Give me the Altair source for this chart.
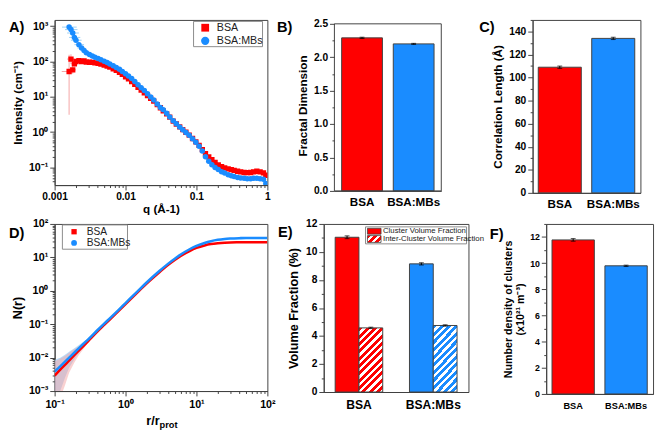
import json
import altair as alt
import pandas as pd

FONT = "Liberation Sans"
RED = "#ff0000"
BLUE = "#1a8cff"
LRED = "#f4a3a3"
LBLUE = "#9ccff5"
EDGE = "#404040"

# ---------------- data ----------------
samples = ["BSA", "BSA:MBs"]

# Panel A: SANS intensity I(q)
q = [0.0016, 0.0017, 0.0018, 0.0019, 0.0020, 0.0022, 0.0024, 0.0026, 0.0028, 0.0031,
     0.0034, 0.0037, 0.0041, 0.0045, 0.0050, 0.0055, 0.0060, 0.0067, 0.0074, 0.0082,
     0.0090, 0.0100, 0.0110, 0.0122, 0.0135, 0.0150, 0.0166, 0.0184, 0.0204, 0.0226,
     0.0250, 0.0280, 0.0310, 0.0340, 0.0380, 0.0420, 0.0470, 0.0520, 0.0580, 0.0640,
     0.0710, 0.0790, 0.0880, 0.0980, 0.1090, 0.1210, 0.1340, 0.1490, 0.1650, 0.1830,
     0.2030, 0.2260, 0.2500, 0.2800, 0.3100, 0.3400, 0.3800, 0.4200, 0.4700, 0.5200,
     0.5800, 0.6400, 0.7100, 0.7900, 0.8800, 0.9500]
I_bsa = [52, 117, 58, 86, 100, 106, 100, 103, 96, 95,
         94, 91, 88, 84, 79, 74, 69, 62, 56, 49,
         43, 37, 32, 27, 22.5, 18.5, 15.5, 13, 10.8, 9.0,
         7.5, 6.0, 4.9, 4.0, 3.3, 2.65, 2.05, 1.70, 1.40, 1.17,
         0.99, 0.82, 0.66, 0.53, 0.42, 0.32, 0.245, 0.20, 0.165, 0.138,
         0.118, 0.105, 0.097, 0.091, 0.087, 0.083, 0.078, 0.075, 0.072, 0.071,
         0.072, 0.075, 0.078, 0.075, 0.070, 0.060]
I_mbs = [940, 800, 640, 480, 400, 300, 240, 205, 178, 158,
         142, 132, 122, 112, 102, 93, 85, 76, 68, 60,
         52, 45, 39, 33, 27, 22, 18, 15, 12.2, 9.9,
         8.1, 6.3, 5.0, 4.3, 3.4, 2.7, 2.1, 1.72, 1.40, 1.17,
         0.98, 0.81, 0.65, 0.52, 0.40, 0.29, 0.20, 0.15, 0.12, 0.100,
         0.087, 0.076, 0.069, 0.062, 0.058, 0.055, 0.052, 0.050, 0.049, 0.048,
         0.048, 0.049, 0.049, 0.048, 0.046, 0.035]
# low-q error bars
err_q_bsa = [0.0016, 0.0017, 0.0018, 0.0019, 0.0020]
err_I_bsa = [52, 117, 58, 86, 100]
err_lo_bsa = [3.1, 85, 45, 72, 90]
err_hi_bsa = [155, 160, 75, 100, 115]
err_qlo_bsa = [0.00126, 0.0015, 0.0016, 0.0017, 0.0019]
err_qhi_bsa = [0.0019, 0.0019, 0.0020, 0.0021, 0.0021]
err_q_mbs = [0.0016, 0.0017, 0.0018, 0.0019, 0.0020, 0.0022, 0.0024]
err_I_mbs = [940, 800, 640, 480, 400, 300, 240]
err_lo_mbs = [820, 690, 560, 420, 350, 270, 215]
err_hi_mbs = [1080, 930, 730, 550, 460, 335, 270]
err_qlo_mbs = [0.00127, 0.0014, 0.0015, 0.0016, 0.0017, 0.0019, 0.0021]
err_qhi_mbs = [0.00205, 0.0021, 0.0022, 0.0023, 0.0024, 0.0026, 0.0027]

# Panel B / C / F
fractal = [2.29, 2.20]
fractal_err = [0.01, 0.008]
corr_len = [109.0, 134.0]
corr_len_err = [1.0, 1.0]
num_density = [11.78, 9.80]
num_density_err = [0.10, 0.05]

# Panel D: N(r)
r = [0.1, 0.12, 0.15, 0.2, 0.25, 0.3, 0.4, 0.5, 0.6, 0.8, 1.0, 1.5, 2, 3, 4, 5, 6, 8,
     10, 13, 16, 20, 25, 30, 40, 50, 70, 100]
N_bsa = [0.0029, 0.0044, 0.0071, 0.0133, 0.0215, 0.032, 0.060, 0.095, 0.138, 0.25,
         0.40, 0.93, 1.68, 3.6, 6.0, 8.5, 11.0, 15.5, 19.2, 22.8, 25.0, 26.5, 27.5,
         28.0, 28.3, 28.5, 28.5, 28.5]
N_mbs = [0.0038, 0.0055, 0.0087, 0.0158, 0.025, 0.036, 0.066, 0.104, 0.150, 0.27,
         0.43, 1.0, 1.8, 3.9, 6.5, 9.3, 12.2, 17.5, 22.0, 27.0, 30.5, 33.5, 35.5,
         36.5, 37.5, 38.0, 38.0, 38.0]
r_err = [0.1, 0.11, 0.12, 0.14, 0.16, 0.19, 0.22, 0.26, 0.3]
N_bsa_hi = [0.0078, 0.0085, 0.0093, 0.0112, 0.014, 0.018, 0.022, 0.028, 0.034]
N_bsa_lo = [0.0003, 0.0004, 0.0006, 0.0015, 0.0035, 0.0072, 0.012, 0.019, 0.029]
N_mbs_hi = [0.0085, 0.0092, 0.0100, 0.0122, 0.015, 0.019, 0.024, 0.031, 0.038]
N_mbs_lo = [0.0004, 0.0006, 0.0010, 0.0025, 0.005, 0.009, 0.014, 0.022, 0.033]

# Panel E: volume fractions
vf_types = ["Cluster Volume Fraction", "Inter-Cluster Volume Fraction"]
vf_cluster = [11.05, 9.15]
vf_cluster_err = [0.10, 0.08]
vf_inter = [4.58, 4.75]
vf_inter_err = [0.05, 0.05]

legend_labels = ["BSA", "BSA:MBs"]

# ---------------- helpers ----------------
ONE = pd.DataFrame({"k": [0]})
SUP = {-3: "⁻³", -2: "⁻²", -1: "⁻¹", 0: "⁰", 1: "¹", 2: "²", 3: "³"}


def ax(**kw):
    d = dict(grid=False, labelFont=FONT, titleFont=FONT, labelFontWeight="bold",
             titleFontWeight="bold", labelColor="black", titleColor="black",
             domainColor=EDGE, tickColor=EDGE, labelFontSize=10.5, titleFontSize=12,
             tickSize=5, labelPadding=2, titlePadding=3, labelFlush=False,
             labelOverlap=False)
    d.update(kw)
    return alt.Axis(**d)


def log_vals(lo, hi, d0, d1):
    out = []
    for d in range(d0, d1 + 1):
        for m in range(1, 10):
            v = m * 10.0 ** d
            if lo * 0.9999 <= v <= hi * 1.0001:
                out.append(v)
    return out


def log_axis(lo, hi, d0, d1, texts, **kw):
    decs = [d for d in range(d0, d1 + 1) if lo * 0.9999 <= 10.0 ** d <= hi * 1.0001]
    expr = " : ".join(f"datum.value == {json.dumps(10.0 ** d)} ? '{texts(d)}'" for d in decs) + " : ''"
    test = "indexof(" + json.dumps([10.0 ** d for d in decs]) + ", datum.value) >= 0"
    return ax(values=log_vals(lo, hi, d0, d1), labelExpr=expr,
              tickSize={"condition": {"test": test, "value": 5}, "value": 2.5}, **kw)


def lin_axis(ymax, minor, major, fmt, **kw):
    n = int(round(ymax / minor))
    vals = [round(i * minor, 6) for i in range(n + 1)]
    test = f"abs(datum.value/{major} - round(datum.value/{major})) < 1e-6"
    return ax(values=vals, labelExpr=f"{test} ? format(datum.value, '{fmt}') : ''",
              tickSize={"condition": {"test": test, "value": 5}, "value": 2.5}, **kw)


def spacer(x, y):
    return alt.Chart(ONE).mark_square(size=1, opacity=0).encode(x=alt.value(x), y=alt.value(y))


def letter(t, x, y):
    return alt.Chart(ONE).mark_text(text=t, font=FONT, fontSize=15, fontWeight="bold",
                                    align="left", baseline="top", color="black").encode(
        x=alt.value(x), y=alt.value(y))


def txt(s, x, y, size, weight="normal", align="left", baseline="middle", color="#222"):
    return alt.Chart(ONE).mark_text(text=s, font=FONT, fontSize=size, fontWeight=weight,
                                    align=align, baseline=baseline, color=color).encode(
        x=alt.value(x), y=alt.value(y))


def box(x1, x2, y1, y2, fill="white", stroke="#8a8a8a"):
    return alt.Chart(ONE).mark_rect(fill=fill, stroke=stroke, strokeWidth=1).encode(
        x=alt.value(x1), x2=alt.value(x2), y=alt.value(y1), y2=alt.value(y2))


def stripes(c, periods, x2, y2, white=0.45):
    stops = []
    for i in range(periods):
        a = i / periods
        b = (i + 1 - white) / periods
        e = (i + 1) / periods
        stops += [{"offset": a, "color": c}, {"offset": b, "color": c},
                  {"offset": b, "color": "white"}, {"offset": e, "color": "white"}]
    return {"gradient": "linear", "x1": 0, "y1": 0, "x2": x2, "y2": y2, "stops": stops}


def simple_bars(vals, errs, ymax, minor, major, fmt, title, pi, po, xsize, xpad,
                ysize, tsize, tpad, dom_max=None, w=None, h=None):
    df = pd.DataFrame({"s": samples, "v": vals,
                       "lo": [v - e for v, e in zip(vals, errs)],
                       "hi": [v + e for v, e in zip(vals, errs)]})
    framed = dom_max is not None
    yax = lin_axis(ymax, minor, major, fmt, title=title, labelFontSize=ysize,
                   titleFontSize=tsize, titlePadding=tpad, domain=not framed)
    ysc = alt.Scale(domain=[0, dom_max if framed else ymax], nice=False)
    X = alt.X("s:N", scale=alt.Scale(domain=samples, paddingInner=pi, paddingOuter=po),
              axis=ax(title=None, ticks=False, labelAngle=0, labelFontSize=xsize,
                      labelPadding=xpad))
    col = alt.Color("s:N", scale=alt.Scale(domain=samples, range=[RED, BLUE]), legend=None)
    layers = [
        alt.Chart(df).mark_bar(stroke=EDGE, strokeWidth=1).encode(
            x=X, y=alt.Y("v:Q", scale=ysc, axis=yax), color=col),
        alt.Chart(df).mark_rule(color="black").encode(
            x=X, y=alt.Y("lo:Q", scale=ysc, axis=yax), y2="hi:Q"),
        alt.Chart(df).mark_tick(color="black", size=5, thickness=1).encode(
            x=X, y=alt.Y("lo:Q", scale=ysc, axis=yax)),
        alt.Chart(df).mark_tick(color="black", size=5, thickness=1).encode(
            x=X, y=alt.Y("hi:Q", scale=ysc, axis=yax)),
    ]
    if framed:
        layers.append(alt.Chart(ONE).mark_rect(fill="transparent", stroke=EDGE, strokeWidth=1).encode(
            x=alt.value(0), x2=alt.value(w),
            y=alt.Y(datum=ymax, scale=ysc, axis=yax), y2=alt.value(h)))
    return layers


# ---------------- Panel A ----------------
A_W, A_H = 219, 170
scAx = alt.Scale(type="log", domain=[0.001, 1], nice=False)
scAy = alt.Scale(type="log", domain=[0.0316, 1500], nice=False)
axAx = log_axis(0.001, 1, -3, 0, lambda d: {-3: "0.001", -2: "0.01", -1: "0.1", 0: "1"}[d],
                title="q (Å-1)", labelPadding=2, titlePadding=2)
axAy = log_axis(0.0316, 1500, -2, 3, lambda d: "10" + SUP[d], title="Intensity (cm⁻¹)",
                titlePadding=4, labelFontSize=11)


def XA(f="q"):
    return alt.X(f"{f}:Q", scale=scAx, axis=axAx)


def YA(f="I"):
    return alt.Y(f"{f}:Q", scale=scAy, axis=axAy)


dfA_r = pd.DataFrame({"q": q, "I": I_bsa})
dfA_b = pd.DataFrame({"q": q, "I": I_mbs})
dfE_r = pd.DataFrame({"q": err_q_bsa, "I": err_I_bsa, "lo": err_lo_bsa, "hi": err_hi_bsa,
                      "qlo": err_qlo_bsa, "qhi": err_qhi_bsa})
dfE_b = pd.DataFrame({"q": err_q_mbs, "I": err_I_mbs, "lo": err_lo_mbs, "hi": err_hi_mbs,
                      "qlo": err_qlo_mbs, "qhi": err_qhi_mbs})

panelA = alt.layer(
    alt.Chart(dfE_r).mark_rule(color=LRED, clip=True).encode(x=XA(), y=YA("lo"), y2="hi:Q"),
    alt.Chart(dfE_r).mark_rule(color=LRED, clip=True).encode(x=XA("qlo"), x2="qhi:Q", y=YA()),
    alt.Chart(dfA_r).mark_square(size=30, color=RED, opacity=1, clip=True).encode(x=XA(), y=YA()),
    alt.Chart(dfE_b).mark_rule(color=LBLUE, clip=True).encode(x=XA(), y=YA("lo"), y2="hi:Q"),
    alt.Chart(dfE_b).mark_rule(color=LBLUE, clip=True).encode(x=XA("qlo"), x2="qhi:Q", y=YA()),
    alt.Chart(dfA_b).mark_circle(size=32, color=BLUE, opacity=1, clip=True).encode(x=XA(), y=YA()),
    box(143, 214, 1.5, 27.5),
    alt.Chart(ONE).mark_square(size=64, color=RED, opacity=1).encode(x=alt.value(155), y=alt.value(8)),
    alt.Chart(ONE).mark_circle(size=72, color=BLUE, opacity=1).encode(x=alt.value(155), y=alt.value(21.5)),
    txt(legend_labels[0], 167, 8.5, 11),
    txt(legend_labels[1], 167, 22, 11),
    letter("A)", -47, 0),
    spacer(-47, -1.5), spacer(225, 0),
).properties(width=A_W, height=A_H)

# ---------------- Panel B ----------------
B_H = 176
panelB = alt.layer(
    *simple_bars(fractal, fractal_err, 2.5, 0.25, 0.5, ".1f", "Fractal Dimension",
                 0.21, 0.14, 12, 6, 10.5, 12, 4, dom_max=2.5 * B_H / (B_H - 4), w=110, h=B_H),
    letter("B)", -59, 0),
    spacer(-61, -1.5), spacer(116, 0),
).properties(width=110, height=B_H, view=alt.ViewBackground(stroke="transparent"))

# ---------------- Panel C ----------------
panelC = alt.layer(
    *simple_bars(corr_len, corr_len_err, 150, 10, 20, "d", "Correlation Length (Å)",
                 0.195, 0.106, 12, 6, 10.5, 12, 4),
    letter("C)", -55, 0),
    spacer(-86, -1.5), spacer(111, 0),
).properties(width=111, height=178)

# ---------------- Panel D ----------------
scDx = alt.Scale(type="log", domain=[0.1, 100], nice=False)
scDy = alt.Scale(type="log", domain=[0.001, 100], nice=False)
axDx = log_axis(0.1, 100, -1, 2, lambda d: "10" + SUP[d], title=None, labelPadding=3,
                labelFontSize=11)
axDy = log_axis(0.001, 100, -3, 2, lambda d: "10" + SUP[d], title="N(r)", titlePadding=4,
                labelFontSize=11, titleFontSize=13)


def XD(f="r"):
    return alt.X(f"{f}:Q", scale=scDx, axis=axDx)


def YD(f="N"):
    return alt.Y(f"{f}:Q", scale=scDy, axis=axDy)


dfD_r = pd.DataFrame({"r": r, "N": N_bsa})
dfD_b = pd.DataFrame({"r": r, "N": N_mbs})
dfDe_r = pd.DataFrame({"r": r_err, "lo": N_bsa_lo, "hi": N_bsa_hi})
dfDe_b = pd.DataFrame({"r": r_err, "lo": N_mbs_lo, "hi": N_mbs_hi})

panelD = alt.layer(
    alt.Chart(dfDe_b).mark_area(color=LBLUE, opacity=0.7, clip=True).encode(x=XD(), y=YD("lo"), y2="hi:Q"),
    alt.Chart(dfDe_r).mark_area(color=LRED, opacity=0.5, clip=True).encode(x=XD(), y=YD("lo"), y2="hi:Q"),
    alt.Chart(dfD_r).mark_line(color=RED, strokeWidth=2.6, clip=True, interpolate="monotone").encode(x=XD(), y=YD()),
    alt.Chart(dfD_b).mark_line(color=BLUE, strokeWidth=2.6, clip=True, interpolate="monotone").encode(x=XD(), y=YD()),
    box(8, 75, 1, 26),
    alt.Chart(ONE).mark_square(size=30, color=RED, opacity=1).encode(x=alt.value(20), y=alt.value(8)),
    alt.Chart(ONE).mark_circle(size=36, color=BLUE, opacity=1).encode(x=alt.value(20), y=alt.value(19.5)),
    txt(legend_labels[0], 33, 8.5, 10.5),
    txt(legend_labels[1], 33, 20, 10.5),
    txt("r/r", 108, 207, 13, weight="bold", align="right", baseline="alphabetic", color="black"),
    txt("prot", 108, 210.5, 9.5, weight="bold", align="left", baseline="alphabetic", color="black"),
    letter("D)", -47, 2.5),
    spacer(-47, -8), spacer(225, 0), spacer(0, 212),
).properties(width=219, height=172)

# ---------------- Panel E ----------------
dfE = pd.DataFrame({
    "s": samples * 2,
    "t": [vf_types[0]] * 2 + [vf_types[1]] * 2,
    "v": vf_cluster + vf_inter,
    "e": vf_cluster_err + vf_inter_err,
})
dfE["lo"] = dfE["v"] - dfE["e"]
dfE["hi"] = dfE["v"] + dfE["e"]
scEy = alt.Scale(domain=[0, 12], nice=False)
axEy = lin_axis(12, 1, 2, "d", title="Volume Fraction (%)", titleFontSize=13, titlePadding=5)
XE = alt.X("s:N", scale=alt.Scale(domain=samples, paddingInner=0.36, paddingOuter=0.154),
           axis=ax(title=None, ticks=False, labelAngle=0, labelFontSize=12.5, labelPadding=7))
OE = alt.XOffset("t:N", scale=alt.Scale(domain=vf_types, paddingInner=0, paddingOuter=0))
colE = alt.Color("s:N", scale=alt.Scale(domain=samples, range=[RED, BLUE]), legend=None)

dfE_solid = dfE[dfE["t"] == vf_types[0]]
dfE_hr = dfE[(dfE["t"] == vf_types[1]) & (dfE["s"] == samples[0])]
dfE_hb = dfE[(dfE["t"] == vf_types[1]) & (dfE["s"] == samples[1])]

panelE = alt.layer(
    alt.Chart(dfE_solid).mark_bar(stroke=EDGE, strokeWidth=1).encode(
        x=XE, xOffset=OE, y=alt.Y("v:Q", scale=scEy, axis=axEy), color=colE),
    alt.Chart(dfE_hr).mark_bar(stroke=EDGE, strokeWidth=1, fill=stripes(RED, 12, 0.45, 1.205)).encode(
        x=XE, xOffset=OE, y=alt.Y("v:Q", scale=scEy, axis=axEy)),
    alt.Chart(dfE_hb).mark_bar(stroke=EDGE, strokeWidth=1, fill=stripes(BLUE, 12, 0.45, 1.205)).encode(
        x=XE, xOffset=OE, y=alt.Y("v:Q", scale=scEy, axis=axEy)),
    alt.Chart(dfE).mark_rule(color="black").encode(
        x=XE, xOffset=OE, y=alt.Y("lo:Q", scale=scEy, axis=axEy), y2="hi:Q"),
    alt.Chart(dfE).mark_tick(color="black", size=5, thickness=1).encode(
        x=XE, xOffset=OE, y=alt.Y("lo:Q", scale=scEy, axis=axEy)),
    alt.Chart(dfE).mark_tick(color="black", size=5, thickness=1).encode(
        x=XE, xOffset=OE, y=alt.Y("hi:Q", scale=scEy, axis=axEy)),
    box(43, 147, 3, 20.5),
    alt.Chart(ONE).mark_rect(fill=RED, stroke=EDGE, strokeWidth=0.8).encode(
        x=alt.value(45), x2=alt.value(59), y=alt.value(4.5), y2=alt.value(10.5)),
    alt.Chart(ONE).mark_rect(fill=stripes(RED, 3, 1.2, 0.6), stroke=EDGE, strokeWidth=0.8).encode(
        x=alt.value(45), x2=alt.value(59), y=alt.value(12), y2=alt.value(19)),
    txt(vf_types[0], 61, 7.6, 8),
    txt(vf_types[1], 61, 15.7, 8),
    letter("E)", -47, 1.5),
    spacer(-48, -8), spacer(154, 0),
).properties(width=149, height=173)

# ---------------- Panel F ----------------
panelF = alt.layer(
    *simple_bars(num_density, num_density_err, 13, 1, 2, "d",
                 ["Number density of clusters", "(x10²¹ m⁻³)"],
                 0.2, 0.11, 9.5, 7, 9, 11, 4),
    letter("F)", -58, 3),
    spacer(-62, -8), spacer(111, 0),
).properties(width=110, height=175)

row1 = alt.hconcat(panelA, panelB, panelC, spacing=0)
row2 = alt.hconcat(panelD, panelE, panelF, spacing=0)
chart = alt.vconcat(row1, row2, spacing=0).properties(padding=0).configure_view(
    stroke=EDGE, strokeWidth=1)

chart.save("out.html", embed_options={"renderer": "svg", "actions": False})
